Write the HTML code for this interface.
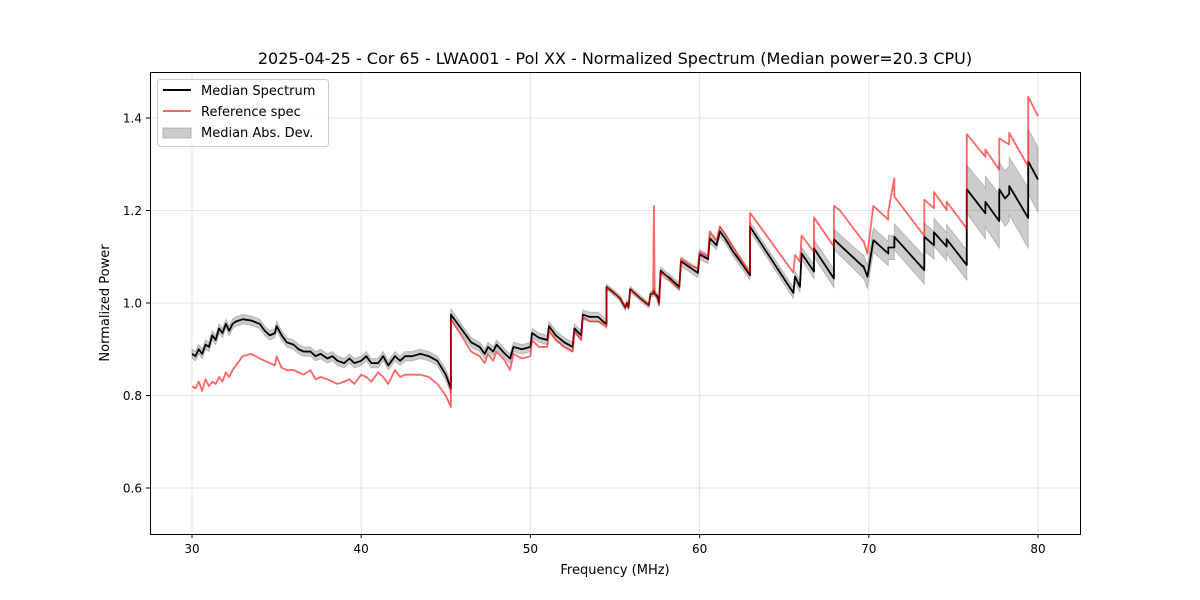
<!DOCTYPE html>
<html><head><meta charset="utf-8"><style>
body{margin:0;background:#fff;}
svg{display:block;font-family:"DejaVu Sans","Liberation Sans",sans-serif;}
</style></head><body>
<svg id="chart" width="1200" height="600" viewBox="0 0 1200 600">
<rect x="0" y="0" width="1200" height="600" fill="#fff"/>
<text x="615" y="64" text-anchor="middle" font-size="16" fill="#000">2025-04-25 - Cor 65 - LWA001 - Pol XX - Normalized Spectrum (Median power=20.3 CPU)</text>
<g id="grid"></g>
<g id="marks"></g>
<rect x="150.5" y="72.5" width="930" height="462" fill="none" stroke="#000" stroke-width="1"/>
<g id="axes"></g>
<text x="615" y="574" text-anchor="middle" font-size="13">Frequency (MHz)</text>
<text transform="translate(109,303) rotate(-90)" text-anchor="middle" font-size="13">Normalized Power</text>
<g>
<rect x="157.5" y="79.5" width="171" height="67" rx="3" fill="#fff" fill-opacity="0.8" stroke="#ccc"/>
<line x1="163" y1="90" x2="191" y2="90" stroke="#000" stroke-width="2"/>
<text x="201" y="95" font-size="13">Median Spectrum</text>
<line x1="163" y1="111" x2="191" y2="111" stroke="rgba(255,0,0,0.6)" stroke-width="2"/>
<text x="201" y="116" font-size="13">Reference spec</text>
<rect x="163" y="128" width="28" height="10" fill="rgba(128,128,128,0.4)" stroke="rgba(128,128,128,0.5)"/>
<text x="201" y="137" font-size="13">Median Abs. Dev.</text>
</g>
</svg>
<script>
const freq=[30,30.2,30.4,30.6,30.8,31,31.2,31.4,31.6,31.8,32,32.2,32.4,32.6,33,33.5,34,34.3,34.6,34.9,35.0,35.3,35.6,36,36.3,36.6,37,37.3,37.6,38,38.3,38.6,39,39.3,39.6,40,40.3,40.6,41,41.3,41.6,42,42.3,42.6,43,43.5,44,44.5,45,45.3,
45.3,46,46.5,47,47.3,47.5,47.8,48,48.5,48.8,49,49.5,50,50.1,50.5,51,51.1,51.5,52,52.5,52.6,53,53.1,53.5,54,54.3,54.5,
54.5,55,55.3,55.6,55.7,55.8,55.9,56.5,57,57.1,57.25,57.3,57.35,57.5,57.6,
57.7,58,58.2,58.5,58.8,58.9,59.5,59.9,60,60.5,60.6,61,61.2,61.5,62,62.5,62.98,
62.98,65.54,65.64,65.93,66.03,66.76,66.76,67.94,67.94,68.3,69.68,69.68,69.92,70.27,71.15,71.15,71.51,71.51,73.28,73.28,73.85,73.85,74.6,74.6,75.79,
75.79,76.89,76.89,77.71,77.71,78.05,78.3,78.3,79.42,79.42,80.0];
const median=[.89,.885,.90,.89,.91,.905,.93,.92,.945,.935,.955,.94,.955,.96,.965,.962,.955,.94,.93,.935,.95,.93,.915,.91,.90,.895,.895,.885,.89,.88,.885,.875,.87,.88,.87,.875,.885,.87,.87,.885,.865,.885,.875,.885,.885,.89,.885,.875,.845,.815,
.975,.94,.915,.905,.89,.905,.895,.91,.89,.88,.905,.90,.905,.935,.925,.92,.95,.93,.915,.905,.945,.93,.975,.97,.97,.96,.955,
1.035,1.02,1.01,.99,1.0,.99,1.03,1.01,.995,1.02,1.02,1.025,1.02,1.015,1.0,
1.07,1.06,1.055,1.045,1.035,1.09,1.075,1.065,1.105,1.095,1.14,1.125,1.155,1.14,1.11,1.085,1.06,
1.165,1.022,1.057,1.035,1.107,1.068,1.118,1.053,1.138,1.125,1.078,1.08,1.057,1.136,1.107,1.12,1.12,1.143,1.071,1.143,1.125,1.153,1.122,1.138,1.082,
1.246,1.194,1.219,1.177,1.246,1.226,1.236,1.253,1.184,1.306,1.267];
const reference=[.82,.815,.83,.81,.835,.82,.83,.825,.84,.83,.85,.84,.855,.865,.885,.89,.88,.875,.87,.865,.885,.86,.855,.855,.85,.845,.855,.835,.84,.835,.83,.825,.83,.835,.825,.845,.84,.83,.85,.84,.825,.855,.84,.845,.845,.845,.84,.825,.80,.775,
.965,.925,.895,.885,.87,.89,.875,.895,.875,.855,.89,.88,.885,.92,.905,.905,.94,.92,.905,.895,.94,.92,.97,.96,.96,.955,.95,
1.035,1.02,1.01,.99,1.0,.99,1.03,1.01,.995,1.02,1.02,1.21,1.02,1.01,.995,
1.065,1.06,1.05,1.04,1.03,1.095,1.08,1.075,1.11,1.10,1.155,1.135,1.165,1.15,1.12,1.09,1.065,
1.195,1.066,1.104,1.089,1.146,1.11,1.185,1.122,1.21,1.2,1.133,1.135,1.107,1.21,1.18,1.197,1.27,1.23,1.145,1.223,1.205,1.24,1.201,1.219,1.161,
1.365,1.316,1.332,1.288,1.356,1.348,1.343,1.368,1.295,1.446,1.404];
const mad=[.01,.01,.01,.01,.01,.01,.01,.01,.01,.01,.01,.01,.01,.01,.01,.01,.01,.01,.01,.01,.01,.01,.01,.01,.01,.01,.01,.01,.01,.01,.01,.01,.01,.01,.01,.01,.01,.01,.01,.01,.01,.01,.01,.01,.01,.01,.01,.01,.012,.012,
.012,.01,.01,.01,.01,.01,.01,.01,.01,.01,.01,.01,.01,.01,.01,.01,.01,.01,.01,.01,.01,.01,.01,.01,.01,.01,.01,
.006,.006,.006,.006,.006,.006,.006,.006,.006,.006,.006,.006,.006,.006,.006,
.008,.008,.008,.008,.008,.01,.01,.01,.01,.01,.01,.01,.01,.01,.01,.01,.01,
.01,.012,.012,.013,.013,.015,.018,.02,.022,.022,.025,.025,.025,.026,.026,.026,.026,.028,.03,.03,.03,.03,.03,.032,.032,
.052,.055,.055,.058,.058,.06,.06,.062,.065,.07,.07];
const xTicks=[30,40,50,60,70,80];
const yTicks=[0.6,0.8,1.0,1.2,1.4];
const yTickLabels=["0.6","0.8","1.0","1.2","1.4"];

const NS="http://www.w3.org/2000/svg";
const X0=150,X1=1080,Y0=72,Y1=534;
function xs(f){return 192+(f-30)*(846/50);}
function ys(v){return 534.25-(v-0.5)*462.5;}
function mk(tag,attrs,parent){const e=document.createElementNS(NS,tag);for(const k in attrs)e.setAttribute(k,attrs[k]);parent.appendChild(e);return e;}
const grid=document.getElementById('grid'),axes=document.getElementById('axes'),marks=document.getElementById('marks');
xTicks.forEach(t=>{
  const x=xs(t);
  const gl=mk('line',{x1:x,x2:x,y1:Y0,y2:Y1,stroke:'#e3e3e3','stroke-width':1},grid);
  
  
  const tk=mk('line',{x1:x,x2:x,y1:Y1,y2:Y1+4,stroke:'#000'},axes);
  
  
  const lb=mk('text',{x:x,y:Y1+19,'text-anchor':'middle','font-size':12},axes);
  lb.textContent=String(t);
  
  
});
yTicks.forEach((t,i)=>{
  const y=ys(t);
  const gl=mk('line',{x1:X0,x2:X1,y1:y,y2:y,stroke:'#e3e3e3','stroke-width':1},grid);
  
  
  const tk=mk('line',{x1:X0-4,x2:X0,y1:y,y2:y,stroke:'#000'},axes);
  
  
  const lb=mk('text',{x:X0-8,y:y+4.5,'text-anchor':'end','font-size':12},axes);
  lb.textContent=yTickLabels[i];
  
  
});
let up=[],dn=[];
for(let i=0;i<freq.length;i++){up.push(xs(freq[i])+','+ys(median[i]+mad[i]));dn.push(xs(freq[i])+','+ys(median[i]-mad[i]));}
const band=mk('polygon',{points:up.concat(dn.reverse()).join(' '),fill:'rgba(128,128,128,0.4)',stroke:'rgba(128,128,128,0.45)','stroke-width':1},marks);


const med=mk('polyline',{points:freq.map((f,i)=>xs(f)+','+ys(median[i])).join(' '),fill:'none',stroke:'#000','stroke-width':1.8,'stroke-linejoin':'round'},marks);


const ref=mk('polyline',{points:freq.map((f,i)=>xs(f)+','+ys(reference[i])).join(' '),fill:'none',stroke:'rgba(255,0,0,0.6)','stroke-width':1.8,'stroke-linejoin':'round'},marks);


</script>
</body></html>
